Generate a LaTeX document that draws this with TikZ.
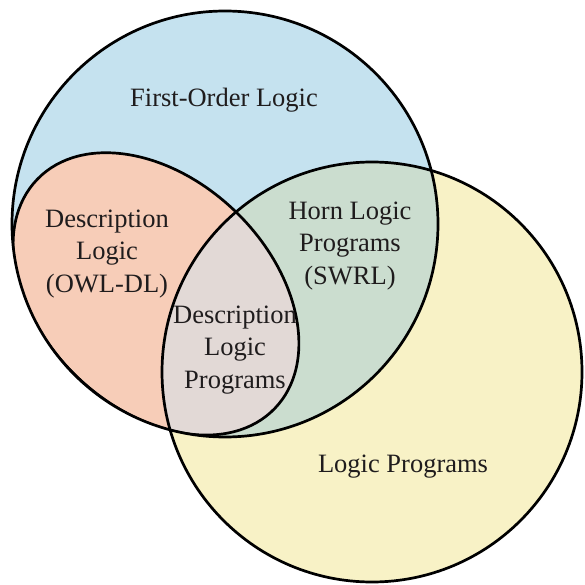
\documentclass[tikz,border=0pt]{standalone}
\usepackage{fontspec}
\setmainfont{Liberation Serif}
\definecolor{folblue}{HTML}{C5E2EF}
\definecolor{dlsalmon}{HTML}{F7CDB8}
\definecolor{lpyellow}{HTML}{F8F2C6}
\definecolor{horngreen}{HTML}{CBDDCF}
\definecolor{dlpgray}{HTML}{E2D9D6}
\definecolor{inkgray}{HTML}{1F1C1D}
\begin{document}
\begin{tikzpicture}[x=1pt,y=-1pt,
  outline/.style={draw=black,line width=2.7pt},
  dlshape/.style={x radius=165,y radius=114.5,rotate=-44},
  lbl/.style={text=inkgray,align=center,inner sep=0pt,
    font={\fontsize{26.5}{32.5}\selectfont}}]
\useasboundingbox (0,0) rectangle (584,585);
% base fills
\fill[folblue] (225,224) circle[radius=213];
\fill[lpyellow] (372,372) circle[radius=210];
% first-order logic and logic programs: Horn logic programs
\begin{scope}
  \clip (225,224) circle[radius=213];
  \fill[horngreen] (372,372) circle[radius=210];
\end{scope}
% description logic, kept inside first-order logic
\begin{scope}
  \clip (225,224) circle[radius=213];
  \fill[dlsalmon] (156,293.9) ellipse[dlshape];
  \begin{scope}
    \clip (156,293.9) ellipse[dlshape];
    \fill[dlpgray] (372,372) circle[radius=210];
  \end{scope}
  \path[outline] (156,293.9) ellipse[dlshape];
\end{scope}
% outlines
\path[outline] (225,224) circle[radius=213];
\path[outline] (372,372) circle[radius=210];
% labels
\node[lbl] (fol) at (224,100) {First-Order Logic};
\node[lbl] (dl) at (107,254) {Description\\Logic\\(OWL-DL)};
\node[lbl] (horn) at (350,246) {Horn Logic\\Programs\\(SWRL)};
\node[lbl] (dlp) at (235,350) {Description\\Logic\\Programs};
\node[lbl] (lp) at (403,467) {Logic Programs};
\end{tikzpicture}
\end{document}
